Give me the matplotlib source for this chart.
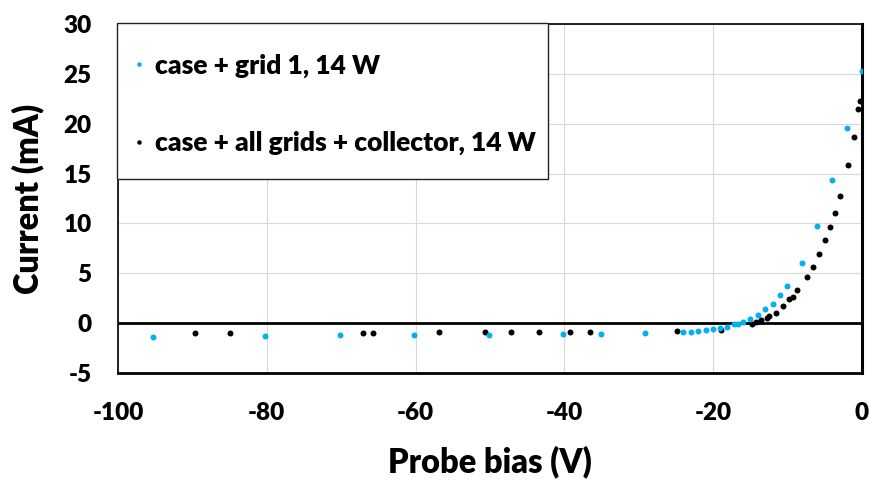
import matplotlib
matplotlib.use("Agg")
import matplotlib.pyplot as plt
from matplotlib.patches import Rectangle

plt.rcParams["font.family"] = ["Lato", "DejaVu Sans"]
plt.rcParams["font.weight"] = "heavy"
plt.rcParams["axes.labelweight"] = "heavy"
plt.rcParams["axes.unicode_minus"] = False

# case + grid 1, 14 W (blue)
grid1_v = [-95.3, -80.3, -70.2, -60.2, -50.1, -40.2, -35.1, -29.1,
           -24.0, -23.0, -22.0, -21.0, -20.0, -19.0, -18.1, -17.2, -16.6,
           -16.0, -15.0, -14.0, -13.0, -12.0, -11.0, -10.0,
           -8.0, -6.0, -4.0, -2.0, 0.0]
grid1_i = [-1.35, -1.25, -1.2, -1.2, -1.15, -1.1, -1.05, -1.0,
           -0.92, -0.89, -0.82, -0.72, -0.62, -0.5, -0.36, -0.1, -0.05,
           0.1, 0.45, 0.85, 1.4, 1.95, 2.8, 3.7,
           6.0, 9.7, 14.4, 19.6, 25.3]

# case + all grids + collector, 14 W (black)
allg_v = [-89.7, -84.9, -67.1, -65.7, -56.8, -50.6, -47.2, -43.4, -39.2, -36.5,
          -24.9, -18.9, -14.7, -14.2, -13.5, -12.7, -12.5, -11.5, -10.6, -9.8,
          -9.3, -8.7, -7.35, -6.5, -5.7, -4.9, -4.3, -3.6, -2.95, -1.9,
          -1.1, -0.55, -0.23]
allg_i = [-1.0, -1.0, -0.95, -0.95, -0.92, -0.9, -0.9, -0.87, -0.87, -0.87,
          -0.8, -0.7, -0.05, 0.1, 0.3, 0.55, 0.7, 1.0, 1.7, 2.4,
          2.6, 3.3, 4.6, 5.65, 6.9, 8.35, 9.6, 11.1, 12.8, 15.9,
          18.7, 21.5, 22.3]

x_ticks = [-100, -80, -60, -40, -20, 0]
y_ticks = [-5, 0, 5, 10, 15, 20, 25, 30]

fig = plt.figure(figsize=(8.7, 4.82), dpi=100)
ax = fig.add_axes([0.1356, 0.2261, 0.855, 0.7239])

blue = "#00B0F0"
ax.plot(grid1_v, grid1_i, "o", color=blue, ms=4.3, mew=0,
        label="case + grid 1, 14 W", zorder=4)
ax.plot(allg_v, allg_i, "o", color="black", ms=4.3, mew=0,
        label="case + all grids + collector, 14 W", zorder=3)

ax.axhline(0, color="black", lw=2, zorder=2)
ax.set_xlim(-100, 0)
ax.set_ylim(-5, 30)
ax.set_xticks(x_ticks)
ax.set_yticks(y_ticks)
ax.tick_params(length=0, labelsize=17.5)
ax.tick_params(axis="x", pad=21)
ax.tick_params(axis="y", pad=19)
ax.grid(True, color="#D9D9D9", lw=0.8)
ax.set_axisbelow(True)
for s in ax.spines.values():
    s.set_color("black")
    s.set_linewidth(1.2)
ax.spines["right"].set_linewidth(2.2)
ax.spines["bottom"].set_linewidth(2)

ax.set_xlabel("Probe bias (V)", fontsize=23.5, labelpad=15)
ax.set_ylabel("Current (mA)", fontsize=23.5, labelpad=14)

# legend box (white, thin dark border) sitting over the top-left of the plot
ax.add_patch(Rectangle((-0.0013, 0.556), 0.579, 0.447, transform=ax.transAxes,
                       facecolor="white", edgecolor="#222222", lw=1,
                       clip_on=False, zorder=9))
leg = ax.legend(loc="upper left", bbox_to_anchor=(-0.009, 0.988), fontsize=19,
                frameon=False, markerscale=0.75, handlelength=0.2,
                handletextpad=0.5, labelspacing=2.03, borderpad=0.95,
                borderaxespad=0)
leg.set_zorder(10)

fig.savefig("out.png", dpi=100)
